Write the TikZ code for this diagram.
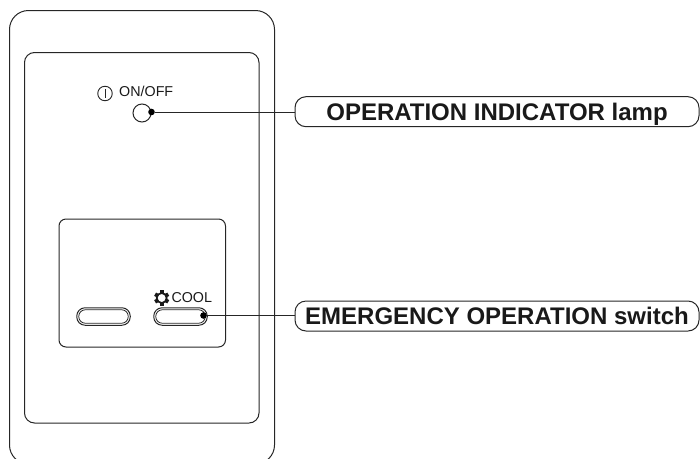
\documentclass[tikz,border=0pt]{standalone}
\usepackage{fontspec}
\setmainfont{Liberation Sans}
\tikzset{
  x=1pt,y=-1pt,
  ln/.style={draw=black!85,line width=1pt},
  tag/.style={ln,rounded corners=11pt,minimum width=404pt,minimum height=30pt,inner sep=0pt,anchor=center,text depth=0pt,font=\fontsize{24pt}{26pt}\bfseries\selectfont,text=black!90},
  small/.style={inner sep=0pt,font=\fontsize{14.3pt}{16pt}\selectfont,text=black!90},
  pill/.style={ln,rounded corners=8.4pt,minimum width=53.5pt,minimum height=17.5pt,inner sep=0pt},
  pillin/.style={draw=black!85,line width=.8pt,rounded corners=6.6pt,minimum width=49.5pt,minimum height=13.5pt,inner sep=0pt},
  blob/.style={circle,fill=black,inner sep=0pt,minimum size=6.6pt}
}
\begin{document}
\begin{tikzpicture}
\useasboundingbox (0,0) rectangle (700,458);
\begin{scope}
\clip (0,0) rectangle (700,458);
\draw[ln,rounded corners=19pt] (9.5,10.5) rectangle (274.5,464);
\end{scope}
\draw[ln,rounded corners=10pt] (24.5,52.5) rectangle (259,423);
\draw[ln,rounded corners=7pt] (59,219) rectangle (225.5,347);
% lamp
\node[ln,circle,minimum size=18pt,inner sep=0pt] (lamp) at (142,113) {};
\node[blob] (lampdot) at (151.5,112) {};
\node[small,anchor=west] (onoff) at (119,91.5) {ON/OFF};
\node[draw=black!85,line width=.9pt,circle,minimum size=14.5pt,inner sep=0pt] (power) at (105,93.5) {};
\draw[black!85,line width=.9pt] (105,89) -- (105,98);
% buttons
\node[pill] (b1) at (103.5,316.5) {};
\node[pillin] (b1i) at (103.5,316.5) {};
\node[pill] (b2) at (180.5,316.5) {};
\node[pillin] (b2i) at (180.5,316.5) {};
\node[blob] (b2dot) at (203.5,315.5) {};
\node[small,anchor=west] (cool) at (171.3,298) {COOL};
% gear
\begin{scope}[shift={(161.7,298)}]
\foreach \a in {30,90,...,330}
  \fill[black!90,rotate=\a] (4,-1.9) rectangle (7.6,1.9);
\draw[black!90,line width=1.7pt] (0,0) circle[radius=5];
\end{scope}
% tags
\node[tag] (t1) at (497,111.7) {OPERATION INDICATOR lamp};
\node[tag] (t2) at (497,316) {EMERGENCY OPERATION switch};
\draw[ln] (lampdot) -- (t1.west |- lampdot);
\draw[ln] (b2dot) -- (t2.west |- b2dot);
\end{tikzpicture}
\end{document}
